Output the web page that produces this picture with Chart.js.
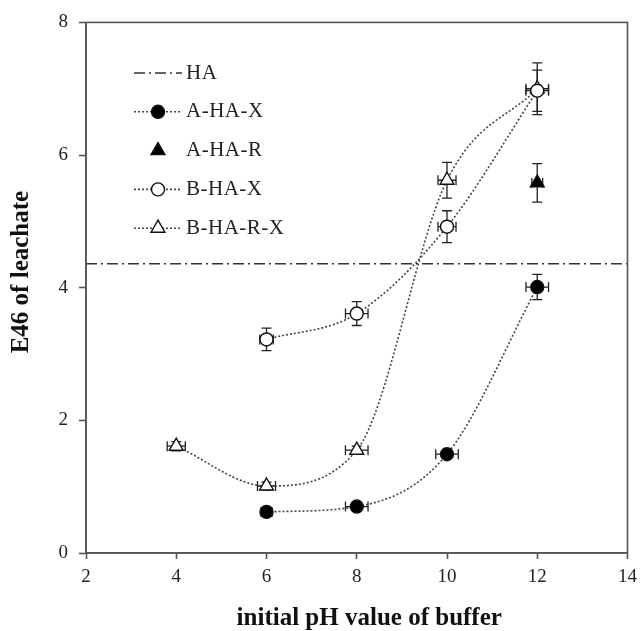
<!DOCTYPE html>
<html lang="en">
<head>
  <meta charset="UTF-8" />
  <title>E46 of leachate vs initial pH</title>
  <script src="https://cdn.jsdelivr.net/npm/chart.js"></script>
  <style>
    body {margin:0;background:#fff;}
    .wrap {width:644px;height:631px;position:relative;}
  </style>
</head>
<body>
<div class="wrap"><canvas id="c"></canvas></div>
<script>
// --------- data ---------
const seriesNames = ['HA','A-HA-X','A-HA-R','B-HA-X','B-HA-R-X'];

const haLevel = 4.36;
const haX = [2, 14];

const aX_pH   = [6, 8, 10, 12];
const aX_E46  = [0.62, 0.70, 1.49, 4.01];
const aX_yErr = [0.04, 0.05, 0.06, 0.19];
const aX_xErr = [0.12, 0.25, 0.25, 0.25];

const aR_pH   = [12];
const aR_E46  = [5.58];
const aR_yErr = [0.29];
const aR_xErr = [0.12];

const bX_pH   = [6, 8, 10, 12];
const bX_E46  = [3.22, 3.61, 4.92, 6.97];
const bX_yErr = [0.17, 0.18, 0.24, 0.31];
const bX_xErr = [0.15, 0.25, 0.2, 0.25];

const bRX_pH   = [4, 6, 8, 10, 12];
const bRX_E46  = [1.61, 1.01, 1.55, 5.62, 7.0];
const bRX_yErr = [0.07, 0.06, 0.06, 0.27, 0.39];
const bRX_xErr = [0.2, 0.2, 0.25, 0.2, 0.25];

const xTicks = [2, 4, 6, 8, 10, 12, 14];
const yTicks = [0, 2, 4, 6, 8];

// --------- helpers ---------
const pts = (xs, ys, xe, ye) => xs.map((x,i)=>({x, y:ys[i], xe:xe?xe[i]:0, ye:ye?ye[i]:0}));
const serif = '"Liberation Serif", "Times New Roman", serif';
const nb = n => '\u00a0'.repeat(n); // titles sit a little off-centre in the original

const dotted = {borderColor:'#444', borderWidth:1.6, borderDash:[2,2], cubicInterpolationMode:'monotone', showLine:true};
const mk = {pointRadius:6.5, pointBorderColor:'#111', pointBorderWidth:1.4};

const datasets = [
  {label:seriesNames[0], data:pts(haX,[haLevel,haLevel]), showLine:true, borderColor:'#333', borderWidth:1.4,
   borderDash:[11,4,2,4], pointRadius:0, tension:0},
  {label:seriesNames[1], data:pts(aX_pH,aX_E46,aX_xErr,aX_yErr), ...dotted, ...mk,
   pointStyle:'circle', pointBackgroundColor:'#000'},
  {label:seriesNames[2], data:pts(aR_pH,aR_E46,aR_xErr,aR_yErr), showLine:false, ...mk,
   pointStyle:'triangle', pointRadius:8, pointBackgroundColor:'#000'},
  {label:seriesNames[3], data:pts(bX_pH,bX_E46,bX_xErr,bX_yErr), ...dotted, ...mk,
   pointStyle:'circle', pointBackgroundColor:'#fff'},
  {label:seriesNames[4], data:pts(bRX_pH,bRX_E46,bRX_xErr,bRX_yErr), ...dotted, ...mk,
   pointStyle:'triangle', pointRadius:8, pointBackgroundColor:'#fff'}
];

// --------- plugins: error bars, frame, inside legend ---------
const errorBars = {
  id:'errorBars',
  beforeDatasetsDraw(chart){
    const {ctx, scales:{x, y}} = chart;
    ctx.save();
    ctx.strokeStyle = '#222';
    ctx.lineWidth = 1.3;
    chart.data.datasets.forEach(ds=>{
      ds.data.forEach(p=>{
        const cx = x.getPixelForValue(p.x), cy = y.getPixelForValue(p.y);
        if (p.ye){
          const t = y.getPixelForValue(p.y + p.ye), b = y.getPixelForValue(p.y - p.ye);
          ctx.beginPath();
          ctx.moveTo(cx, t); ctx.lineTo(cx, b);
          ctx.moveTo(cx-5, t); ctx.lineTo(cx+5, t);
          ctx.moveTo(cx-5, b); ctx.lineTo(cx+5, b);
          ctx.stroke();
        }
        if (p.xe){
          const l = x.getPixelForValue(p.x - p.xe), r = x.getPixelForValue(p.x + p.xe);
          ctx.beginPath();
          ctx.moveTo(l, cy); ctx.lineTo(r, cy);
          ctx.moveTo(l, cy-5); ctx.lineTo(l, cy+5);
          ctx.moveTo(r, cy-5); ctx.lineTo(r, cy+5);
          ctx.stroke();
        }
      });
    });
    ctx.restore();
  }
};

const frame = {
  id:'frame',
  afterDraw(chart){
    const {ctx, chartArea:a} = chart;
    ctx.save();
    ctx.strokeStyle = '#555';
    ctx.lineWidth = 1.6;
    ctx.strokeRect(a.left, a.top, a.right-a.left, a.bottom-a.top);
    ctx.restore();
  }
};

const insideLegend = {
  id:'insideLegend',
  afterDraw(chart){
    const {ctx} = chart;
    const x0 = 134, x1 = 182, tx = 186, y0 = 73, step = 38.8;
    ctx.save();
    ctx.font = '21px ' + serif;
    ctx.letterSpacing = '0.5px';
    ctx.textBaseline = 'middle';
    ctx.fillStyle = '#222';
    chart.data.datasets.forEach((ds,i)=>{
      const yy = y0 + i*step, cx = (x0+x1)/2;
      if (ds.showLine){
        ctx.save();
        ctx.strokeStyle = ds.borderColor;
        ctx.lineWidth = ds.borderWidth;
        ctx.setLineDash(ds.borderDash || []);
        ctx.beginPath(); ctx.moveTo(x0, yy); ctx.lineTo(x1, yy); ctx.stroke();
        ctx.restore();
      }
      if (ds.pointRadius){
        ctx.save();
        ctx.fillStyle = ds.pointBackgroundColor;
        ctx.strokeStyle = ds.pointBorderColor;
        ctx.lineWidth = ds.pointBorderWidth;
        Chart.helpers.drawPoint(ctx, {
          pointStyle: ds.pointStyle, radius: ds.pointRadius, borderWidth: ds.pointBorderWidth
        }, cx, yy);
        ctx.restore();
      }
      ctx.fillText(ds.label, tx, yy);
    });
    ctx.restore();
  }
};

// --------- chart ---------
new Chart(document.getElementById('c'), {
  type:'scatter',
  data:{datasets},
  plugins:[errorBars, frame, insideLegend],
  options:{
    responsive:true,
    maintainAspectRatio:false,
    animation:false,
    layout:{padding:{top:22, right:12, left:0, bottom:0}},
    plugins:{legend:{display:false}, tooltip:{enabled:false}},
    scales:{
      x:{
        type:'linear', min:2, max:14,
        afterBuildTicks(s){ s.ticks = xTicks.map(v=>({value:v})); },
        afterFit(s){ s.height = 78; },
        grid:{drawOnChartArea:false, tickLength:6, color:'#555', tickWidth:1.6},
        border:{color:'#555', width:1.6},
        ticks:{color:'#222', padding:7, font:{family:serif, size:19}},
        title:{display:true, text:nb(4) + 'initial pH value of buffer', color:'#111',
               font:{family:serif, size:25, weight:'bold'}, padding:{top:0, bottom:-3}}
      },
      y:{
        type:'linear', min:0, max:8,
        afterBuildTicks(s){ s.ticks = yTicks.map(v=>({value:v})); },
        afterFit(s){ s.width = 86; },
        grid:{drawOnChartArea:false, tickLength:7, color:'#555', tickWidth:1.6},
        border:{color:'#555', width:1.6},
        ticks:{color:'#222', padding:11, font:{family:serif, size:19}},
        title:{display:true, text:nb(5) + 'E46 of leachate', color:'#111',
               font:{family:serif, size:25, weight:'bold'}, padding:{top:7, bottom:0}}
      }
    }
  }
});
</script>
</body>
</html>
